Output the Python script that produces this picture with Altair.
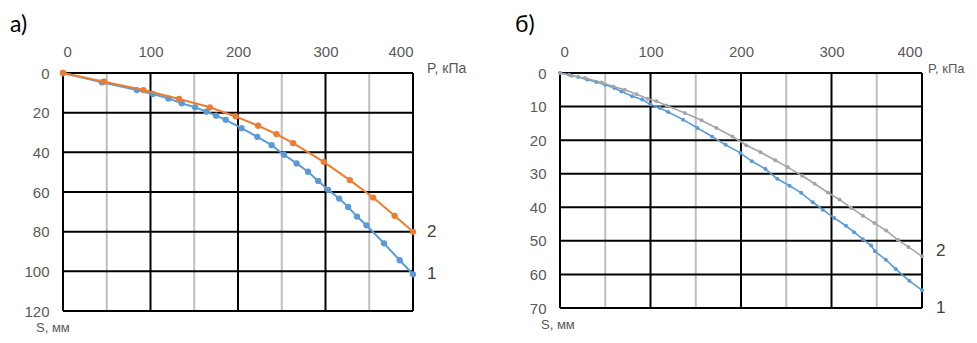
import altair as alt
import pandas as pd

# ---------- Panel а) ----------
P_a1 = [0, 44.5, 84.4, 102.7, 120.5, 135.7, 151, 164, 175, 186, 204, 222, 238.4, 252.5,
        267, 280, 291.6, 303, 315.6, 325.9, 336, 346.8, 366.9, 384.8, 400]
S_a1 = [0, 4.7, 8.6, 10.6, 12.8, 15.3, 17.3, 19.5, 21.5, 23.6, 27.8, 32.2, 36.4, 41.2,
        45.6, 49.8, 54.4, 58.9, 63.3, 67.5, 72.4, 76.8, 85.9, 94.4, 101.5]
P_a2 = [0, 47, 92, 132.7, 168, 197.3, 223, 244, 263, 298, 327.8, 354.4, 379, 400]
S_a2 = [0, 4.4, 8.6, 13.1, 17.3, 21.9, 26.6, 30.8, 35.4, 44.8, 54, 62.8, 72, 80.1]

# ---------- Panel б) ----------
P_b1 = [0, 10, 20, 30, 40, 50, 60, 68, 79.8, 90.8, 100, 110.3, 119.5, 136, 151.8, 168, 183,
        199.3, 212, 227, 240, 253.7, 266.5, 279.4, 290.4, 303, 316, 325, 334.6, 343.8, 348,
        360, 371, 386, 400]
S_b1 = [0, 0.5, 1.2, 1.9, 2.7, 3.5, 4.5, 5.5, 6.95, 7.9, 9.4, 10.4, 11.6, 13.9, 16.4, 18.9,
        21.4, 23.8, 26.3, 28.6, 31.5, 33.6, 35.7, 38.5, 40.7, 43.2, 45.5, 47.4, 49.5, 51.4,
        53.1, 55.6, 58.4, 61.9, 64.7]
P_b2 = [0, 12.9, 27.6, 46, 58.8, 71.7, 84.6, 96.7, 106.6, 117.6, 137.9, 156.3, 172.8, 190.4,
        205.9, 221.7, 237.9, 251.8, 267.6, 281.3, 296, 308.8, 321.7, 334.6, 347.4, 360.3,
        373.2, 385, 400]
S_b2 = [0, 0.8, 1.5, 2.8, 4.0, 5.0, 6.3, 7.7, 8.4, 9.7, 11.9, 14.1, 16.4, 18.9, 21.5, 23.6,
        26.0, 28.1, 30.6, 33.0, 35.6, 37.7, 40.2, 42.5, 44.7, 46.9, 49.7, 51.8, 54.6]

x_ticks = [0, 100, 200, 300, 400]
x_major = [0, 100, 200, 300, 400]
x_minor = [50, 150, 250, 350]
y_ticks_a = [0, 20, 40, 60, 80, 100, 120]
y_ticks_b = [0, 10, 20, 30, 40, 50, 60, 70]

BLUE = "#5B9BD5"
ORANGE = "#ED7D31"
GRAY = "#A5A5A5"
LABEL = "#595959"
NARROW = "Liberation Sans Narrow, Liberation Sans, Arial, sans-serif"


def panel(series, y_ticks, width, height, letter, letter_dx, msize, lw,
          p_dx, p_size, s_dx):
    ymax = y_ticks[-1]
    xs = alt.Scale(domain=[0, 400], nice=False)
    ys = alt.Scale(domain=[0, ymax], reverse=True, nice=False)
    x_axis = alt.Axis(orient="top", values=x_ticks, domain=False, ticks=False, grid=False,
                      labelColor=LABEL, labelFont=NARROW, labelFontSize=15, labelPadding=14,
                      title=None)
    y_axis = alt.Axis(values=y_ticks, domain=False, ticks=False, grid=False,
                      labelColor=LABEL, labelFont=NARROW, labelFontSize=15, labelPadding=14,
                      title=None)
    X = lambda f: alt.X(f, scale=xs, axis=x_axis)
    Y = lambda f: alt.Y(f, scale=ys, axis=y_axis)

    minor = alt.Chart(pd.DataFrame({"x": x_minor})).mark_rule(
        color="#BFBFBF", strokeWidth=2).encode(x=X("x:Q"))
    horiz = alt.Chart(pd.DataFrame({"y": y_ticks})).mark_rule(
        color="black", strokeWidth=2).encode(y=Y("y:Q"))
    major = alt.Chart(pd.DataFrame({"x": x_major})).mark_rule(
        color="black", strokeWidth=2).encode(x=X("x:Q"))

    layers = [minor, horiz, major]
    for P, S, color, lab, ldy in series:
        df = pd.DataFrame({"P": P, "S": S})
        layers.append(alt.Chart(df).mark_line(color=color, strokeWidth=lw).encode(
            x=X("P:Q"), y=Y("S:Q")))
        layers.append(alt.Chart(df).mark_circle(color=color, size=msize, opacity=1).encode(
            x=X("P:Q"), y=Y("S:Q")))
        last = pd.DataFrame({"P": [P[-1]], "S": [S[-1]], "t": [lab]})
        layers.append(alt.Chart(last).mark_text(
            align="left", baseline="middle", dx=14, dy=ldy, font=NARROW, fontSize=17,
            color="#404040").encode(x=X("P:Q"), y=Y("S:Q"), text="t:N"))

    txt = alt.Chart(pd.DataFrame({"a": [0]}))
    layers.append(txt.mark_text(align="left", baseline="middle", dx=p_dx, dy=-4, font=NARROW,
                                fontSize=p_size, color=LABEL, text="P, кПа").encode(
        x=alt.datum(400, scale=xs, axis=x_axis), y=alt.datum(0, scale=ys, axis=y_axis)))
    layers.append(txt.mark_text(align="left", baseline="middle", dx=s_dx, dy=17, font=NARROW,
                                fontSize=13, color=LABEL, text="S, мм").encode(
        x=alt.datum(0, scale=xs, axis=x_axis), y=alt.datum(ymax, scale=ys, axis=y_axis)))
    layers.append(txt.mark_text(align="left", baseline="middle", dx=letter_dx, dy=-48,
                                font="Lato", fontSize=23, color="black", text=letter).encode(
        x=alt.datum(0, scale=xs, axis=x_axis), y=alt.datum(0, scale=ys, axis=y_axis)))

    return alt.layer(*layers).properties(width=width, height=height)


pa = panel([(P_a1, S_a1, BLUE, "1", 0), (P_a2, S_a2, ORANGE, "2", 0)],
           y_ticks_a, 350, 238, "а)", -53, 40, 2, 14, 14, -27)
pb = panel([(P_b1, S_b1, BLUE, "1", 18), (P_b2, S_b2, GRAY, "2", -5)],
           y_ticks_b, 362, 235, "б)", -45, 16, 1.6, 6, 13, -19)

chart = alt.hconcat(pa, pb, spacing=48).properties(
    padding={"left": 2, "top": 6, "right": 0, "bottom": 0}
).configure(background="white").configure_view(strokeWidth=0)

chart.save("out.html", embed_options={"renderer": "svg", "actions": False})
